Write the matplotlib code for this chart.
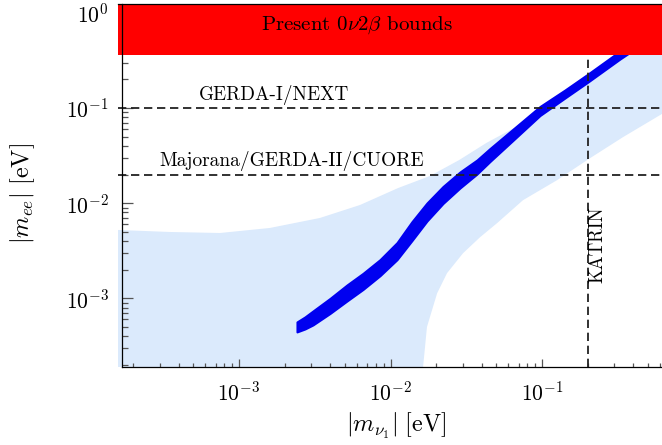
import matplotlib
matplotlib.use('Agg')
import matplotlib.pyplot as plt
from matplotlib.ticker import LogLocator, NullFormatter

plt.rcParams['font.family'] = 'serif'
plt.rcParams['font.serif'] = ['cmr10']
plt.rcParams['mathtext.fontset'] = 'cm'
plt.rcParams['axes.formatter.use_mathtext'] = True

# dark band (scatter of allowed points), lower / upper edge
band_m1 = [2.414e-3, 2.726e-3, 3.079e-3, 3.988e-3, 5.163e-3, 6.583e-3, 8.526e-3, 1.104e-2, 1.386e-2,
           1.741e-2, 2.221e-2, 2.875e-2, 3.724e-2, 4.537e-2, 6.635e-2, 9.70e-2, 0.1418, 0.2012, 0.3272, 0.6484]
band_lo = [4.44e-4, 4.77e-4, 5.26e-4, 6.94e-4, 9.39e-4, 1.24e-3, 1.73e-3, 2.55e-3, 4.05e-3,
           6.50e-3, 9.93e-3, 1.444e-2, 2.026e-2, 2.742e-2, 4.78e-2, 8.34e-2, 0.1274, 0.1875, 0.3271, 0.676]
band_hi = [5.65e-4, 6.38e-4, 7.37e-4, 9.98e-4, 1.383e-3, 1.83e-3, 2.55e-3, 3.85e-3, 6.40e-3,
           1.005e-2, 1.497e-2, 2.127e-2, 2.843e-2, 3.754e-2, 6.24e-2, 0.1037, 0.1545, 0.2276, 0.3969, 0.820]

# light blue region: upper edge and lower edge
region_up_m1 = [1.59e-4, 3.50e-4, 7.49e-4, 1.60e-3, 3.42e-3, 6.29e-3, 1.12e-2, 1.82e-2, 2.84e-2, 4.29e-2, 6.635e-2, 9.70e-2, 0.2012, 0.3272, 0.6484]
region_up_mee = [5.23e-3, 4.98e-3, 4.86e-3, 5.49e-3, 6.99e-3, 9.57e-3, 1.44e-2, 1.93e-2, 2.84e-2, 4.29e-2, 6.24e-2, 0.1037, 0.2276, 0.3969, 0.820]
region_lo_m1 = [1.61e-2, 1.64e-2, 1.74e-2, 2.03e-2, 2.36e-2, 3.01e-2, 3.90e-2, 5.05e-2, 7.49e-2, 0.1256, 0.2074, 0.3424, 0.648]
region_lo_mee = [1.0e-4, 1.9e-4, 5.01e-4, 1.13e-3, 1.84e-3, 2.98e-3, 4.39e-3, 6.17e-3, 1.075e-2, 1.744e-2, 2.97e-2, 4.94e-2, 9.04e-2]

# experimental bounds
present_bound = 0.36
gerda1_bound = 0.1
gerda2_bound = 0.02
katrin_bound = 0.2

xlim = (1.59e-4, 0.648)
ylim = (1.90e-4, 1.237)

fig = plt.figure(figsize=(6.62, 4.45), dpi=100)
ax = fig.add_axes([118 / 662, 78 / 445, 547 / 662, 363 / 445])
ax.set_xscale('log')
ax.set_yscale('log')

# light blue allowed region
poly_x = [1e-5] + region_up_m1 + region_lo_m1[::-1] + [1e-5]
poly_y = [region_up_mee[0]] + region_up_mee + region_lo_mee[::-1] + [region_lo_mee[0]]
ax.fill(poly_x, poly_y, color='#dbeafc', lw=0, zorder=1)

# dark blue band
ax.fill_between(band_m1, band_lo, band_hi, color='#0000f0', lw=1.5, edgecolor='#0000f0',
                joinstyle='round', zorder=2)

# dashed bounds
dash_kw = dict(color='#222222', lw=1.3, dashes=(4.6, 2.6), zorder=3)
ax.axhline(gerda1_bound, **dash_kw)
ax.axhline(gerda2_bound, **dash_kw)
ax.axvline(katrin_bound, **dash_kw)

ax.axhspan(present_bound, 10, color='#ff0000', lw=0, zorder=4)

ax.text(0.436, 0.942, r'Present $0\nu2\beta$ bounds', transform=ax.transAxes,
        ha='center', va='center', fontsize=15, zorder=5)
ax.text(0.2852, 0.7355, 'GERDA-I/NEXT', transform=ax.transAxes,
        ha='center', va='baseline', fontsize=13.8, zorder=5)
ax.text(0.318, 0.5537, 'Majorana/GERDA-II/CUORE', transform=ax.transAxes,
        ha='center', va='baseline', fontsize=14, zorder=5)
ax.text(0.2035, 3.64e-3, 'KATRIN', rotation=90, ha='left', va='center',
        fontsize=13.5, zorder=5)

ax.set_xlim(*xlim)
ax.set_ylim(*ylim)

for axis in (ax.xaxis, ax.yaxis):
    axis.set_minor_locator(LogLocator(base=10, subs=range(2, 10), numticks=20))
    axis.set_minor_formatter(NullFormatter())

ax.tick_params(which='both', direction='in', top=False, right=False,
               color='#555555', width=0.9, labelsize=15.5)
ax.tick_params(axis='x', which='major', length=5.5, pad=10)
ax.tick_params(axis='x', which='minor', length=3.1)
ax.tick_params(axis='y', which='major', length=7.7, pad=9.5)
ax.tick_params(axis='y', which='minor', length=4.3)

ax.spines['right'].set_visible(False)
ax.spines['left'].set_position(('axes', 4 / 547))
ax.spines['bottom'].set_bounds(1.69e-4, xlim[1])
for s in ('left', 'bottom', 'top'):
    ax.spines[s].set_linewidth(0.9)
    ax.spines[s].set_zorder(6)

ax.set_xlabel(r'$|m_{\nu_1}|\ [\mathrm{eV}]$', fontsize=17.5, ha='center', va='center')
ax.xaxis.set_label_coords(0.508, -0.1625)
ax.set_ylabel(r'$|m_{ee}|\ [\mathrm{eV}]$', fontsize=17.5, ha='center', va='center')
ax.yaxis.set_label_coords(-0.1737, 0.479)

fig.savefig('out.png', dpi=100)
